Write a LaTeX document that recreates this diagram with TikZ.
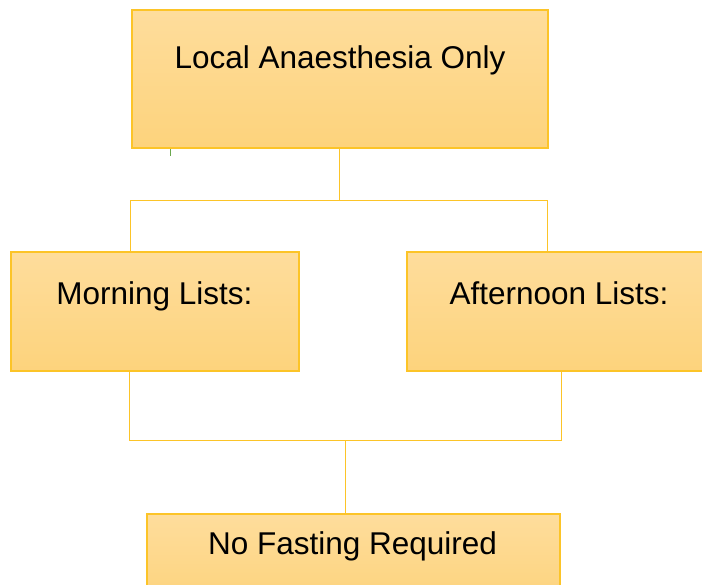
\documentclass[tikz,border=0pt]{standalone}
\usepackage{fontspec}
\setmainfont{Liberation Sans}
\definecolor{boxtop}{RGB}{254,221,156}
\definecolor{boxbot}{RGB}{253,211,124}
\definecolor{gold}{RGB}{252,196,40}
\definecolor{tick}{RGB}{106,168,79}
\begin{document}
\begin{tikzpicture}[x=1pt,y=-1pt,
  box/.style={draw=gold,line width=1.5pt,top color=boxtop,bottom color=boxbot,inner sep=0pt},
  conn/.style={draw=gold,line width=1.2pt},
  lbl/.style={anchor=base,inner sep=0pt,font=\fontsize{31.5}{36}\selectfont}]
\clip (0,0) rectangle (702,585);
\useasboundingbox (0,0) rectangle (702,585);
\node[box,minimum width=416pt,minimum height=138pt] (top) at (340,79) {};
\node[box,minimum width=288pt,minimum height=119pt] (left) at (155,311.5) {};
\node[box,minimum width=304pt,minimum height=119pt] (right) at (559,311.5) {};
\node[box,minimum width=413pt,minimum height=90pt] (bot) at (353.5,559) {};
\node[lbl] (ttop) at (340,69) {Local Anaesthesia Only};
\node[lbl] (tleft) at (154.5,305) {Morning Lists:};
\node[lbl] (tright) at (559,305) {Afternoon Lists:};
\node[lbl] (tbot) at (352.5,554) {No Fasting Required};
\coordinate (b1) at (339.5,200.5);
\coordinate (b1l) at (130.5,200.5);
\coordinate (b1r) at (547.5,200.5);
\coordinate (b2l) at (129.5,440.5);
\coordinate (b2r) at (561.5,440.5);
\coordinate (b2m) at (345.5,440.5);
\draw[conn] (b1 |- top.south) -- (b1);
\draw[conn] (b1l |- left.north) -- (b1l) -- (b1r) -- (b1r |- right.north);
\draw[conn] (b2l |- left.south) -- (b2l) -- (b2r) -- (b2r |- right.south);
\draw[conn] (b2m) -- (b2m |- bot.north);
\coordinate (g1) at (170.5,149);
\coordinate (g2) at (170.5,156);
\draw[tick,line width=1pt] (g1) -- (g2);
\end{tikzpicture}
\end{document}
